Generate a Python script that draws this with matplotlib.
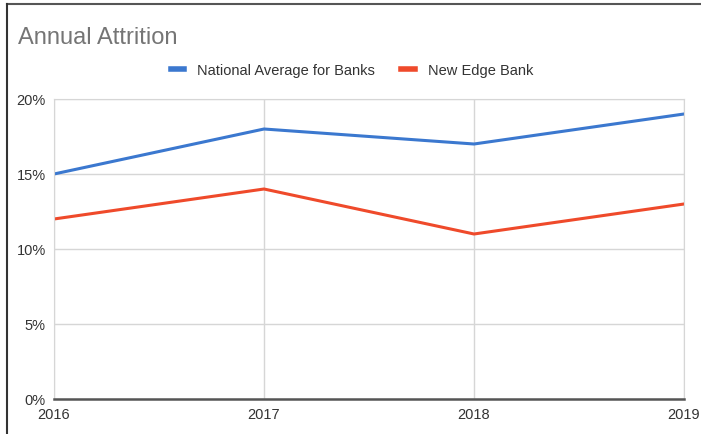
import matplotlib.pyplot as plt
from matplotlib.lines import Line2D
from matplotlib.ticker import FuncFormatter

years = [2016, 2017, 2018, 2019]
national = [15, 18, 17, 19]
new_edge = [12, 14, 11, 13]
yticks = [0, 5, 10, 15, 20]

blue = '#3b78cf'
red = '#ef4a2b'

plt.rcParams['font.family'] = ['Liberation Sans', 'DejaVu Sans']

fig = plt.figure(figsize=(7.01, 4.35), dpi=100)
ax = fig.add_axes([54 / 701, 35 / 435, 630 / 701, 300 / 435])

ax.plot(years, national, color=blue, lw=2.2, label='National Average for Banks')
ax.plot(years, new_edge, color=red, lw=2.2, label='New Edge Bank')

ax.set_xlim(2016, 2019)
ax.set_ylim(0, 20)
ax.set_xticks(years)
ax.set_yticks(yticks)
ax.yaxis.set_major_formatter(FuncFormatter(lambda v, p: f'{v:.0f}%'))
ax.grid(True, color='#d6d6d6', lw=1)
ax.set_axisbelow(True)
for s in ['top', 'right', 'left']:
    ax.spines[s].set_color('#d6d6d6')
ax.spines['bottom'].set_color('#555555')
ax.spines['bottom'].set_linewidth(1.8)
ax.tick_params(length=0, labelsize=10.5, colors='#333333', pad=6)
ax.tick_params(axis='x', pad=6)

fig.text(18 / 701, 1 - 38 / 435, 'Annual Attrition', fontsize=17, color='#757575',
         va='center', ha='left')

fig.legend(loc='center', bbox_to_anchor=(352 / 701, 1 - 71 / 435), ncol=2,
           frameon=False, fontsize=10.5, handlelength=0.9, columnspacing=1.8,
           handletextpad=0.9, labelcolor='#333333')
for h in fig.legends[0].legend_handles:
    h.set_linewidth(4)

# thin frame of the original screenshot
fig.add_artist(Line2D([7 / 701, 1], [1 - 5 / 435, 1 - 5 / 435], color='#555555', lw=1.5))
fig.add_artist(Line2D([7 / 701, 7 / 701], [0, 1 - 5 / 435], color='#333333', lw=1.5))

fig.savefig('out.png', dpi=100)
